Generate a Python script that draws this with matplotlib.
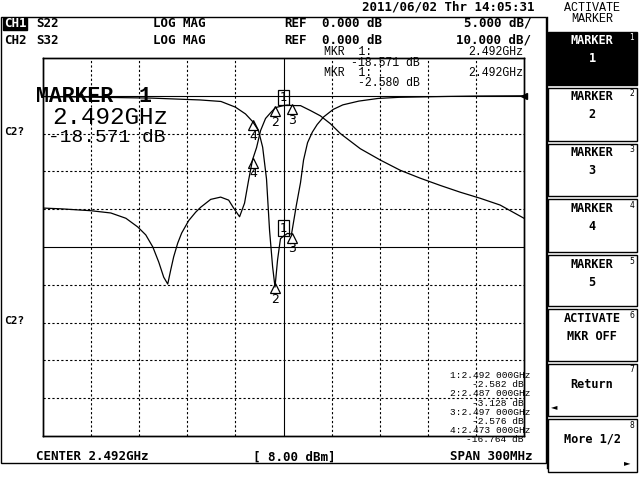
import numpy as np
import matplotlib.pyplot as plt
from matplotlib.patches import Rectangle
from matplotlib.transforms import offset_copy

# CH1: S22, LOG MAG, ref 0 dB, 5 dB/div  (frequency in MHz)
s22_freq = [2342, 2378, 2409, 2440, 2453, 2462, 2468.3, 2472.7, 2476.4, 2479,
            2481.4, 2483.3, 2485.2, 2486.7, 2488.3, 2490.1, 2492, 2494.5, 2497, 2500,
            2502.6, 2504.5, 2507, 2510, 2513, 2517, 2523, 2529, 2539, 2551,
            2564, 2595, 2613, 2642]
s22_db = [-0.1, -0.2, -0.3, -0.55, -0.75, -1.5, -2.4, -3.4, -4.6, -6.8,
          -11, -17.8, -22.6, -25.3, -21.7, -18.9, -18.57, -18.2, -18.3, -14.5,
          -11.5, -8.5, -6.2, -4.8, -3.8, -2.8, -1.8, -1.2, -0.7, -0.35,
          -0.2, -0.08, -0.03, 0]

# CH2: S32, LOG MAG, ref 0 dB, 10 dB/div
s32_freq = [2342, 2353.2, 2371.9, 2384.3, 2393.7, 2401.1, 2406.1, 2410.5, 2414.2, 2417.3,
            2419.8, 2421.7, 2423.5, 2426, 2428.5, 2432.9, 2437.2, 2440.3, 2446.6, 2452.8,
            2457.8, 2460.9, 2464.6, 2467.7, 2470.2, 2472.7, 2475.2, 2477.7, 2480.8, 2483.9,
            2487, 2492, 2494.5, 2497, 2502.6, 2508.8, 2515, 2521.3, 2527.5, 2539.9,
            2552.4, 2564.8, 2577.3, 2589.7, 2602.2, 2614.6, 2627.1, 2642]
s32_db = [-29.7, -29.9, -30.4, -31, -32.4, -34.7, -36.8, -40, -44, -48,
          -49.8, -46, -42.6, -39, -36.3, -33, -30.8, -29.5, -27.4, -26.8,
          -27.6, -29.7, -32, -28.4, -22.4, -16.9, -13.7, -9.2, -6, -4.5,
          -3.13, -2.58, -2.45, -2.58, -2.6, -3.9, -5.3, -7.4, -10, -14,
          -17, -19.7, -21.8, -23.7, -25.5, -27.1, -28.9, -32.4]

# markers 1..4
mkr_labels = ["1", "2", "3", "4"]
mkr_freq = [2492, 2487, 2497, 2473]
mkr_ch1 = [-18.571, -25.0, -18.3, -3.4]
mkr_ch2 = [-2.580, -3.128, -2.576, -16.764]
mkr_list = ["1:2.492 000GHz", "-2.582 dB", "2:2.487 000GHz", "-3.128 dB",
            "3:2.497 000GHz", "-2.576 dB", "4:2.473 000GHz", "-16.764 dB"]

center, span = 2492, 300
softkeys = ["MARKER\n1", "MARKER\n2", "MARKER\n3", "MARKER\n4", "MARKER\n5",
            "ACTIVATE\nMKR OFF", "Return", "More 1/2"]

MONO = "DejaVu Sans Mono"
LMONO = "Liberation Mono"

fig = plt.figure(figsize=(6.4, 4.8), dpi=100)
fig.patch.set_facecolor("white")

ax = fig.add_axes([43 / 640, 1 - 436 / 480, 481 / 640, 378 / 480])
ax.set_xlim(center - span / 2, center + span / 2)
ax.set_ylim(-45, 5)
ax2 = ax.twinx()
ax2.set_ylim(-90, 10)
for a in (ax, ax2):
    a.set_xticks([])
    a.set_yticks([])
    for sp in a.spines.values():
        sp.set_linewidth(1.0)

# graticule
x0 = center - span / 2
for i in range(1, 10):
    ls = "-" if i == 5 else (0, (2, 2))
    ax.axvline(x0 + i * span / 10, color="black", lw=0.8, ls=ls)
for i in range(1, 10):
    ls = "-" if i in (1, 5) else (0, (2, 2))
    ax.axhline(5 - i * 5, color="black", lw=0.8, ls=ls)

ax.plot(s22_freq, s22_db, color="black", lw=0.9)
ax2.plot(s32_freq, s32_db, color="black", lw=0.9)
ax.plot(center + span / 2, 0, marker="<", ms=5, color="black", clip_on=False)


def draw_marker(a, f, v, label):
    if label == "1":
        a.annotate(label, (f, v), xytext=(0, 8), textcoords="offset pixels",
                   ha="center", va="center", fontsize=8.5, family="DejaVu Sans",
                   bbox=dict(boxstyle="square,pad=0.12", fc="none", ec="black", lw=0.9))
    else:
        tr = offset_copy(a.transData, fig=fig, y=-3.5, units="dots")
        a.plot(f, v, marker="^", ms=7, mfc="none", mec="black", mew=0.9, transform=tr)
        a.annotate(label, (f, v), xytext=(0, -8), textcoords="offset pixels",
                   ha="center", va="top", fontsize=9, family="DejaVu Sans")


for lab, f, v1, v2 in zip(mkr_labels, mkr_freq, mkr_ch1, mkr_ch2):
    draw_marker(ax, f, v1, lab)
    draw_marker(ax2, f, v2, lab)

# overlay in screen pixels
ov = fig.add_axes([0, 0, 1, 1])
ov.set_xlim(0, 640)
ov.set_ylim(480, 0)
ov.axis("off")

bold = dict(family=MONO, weight="bold", fontsize=9, va="center")
thin = dict(family=LMONO, fontsize=8.3, va="center")

ov.text(534, 7, "2011/06/02 Thr 14:05:31", ha="right", **bold)
ov.add_patch(Rectangle((0.5, 16.5), 545, 446.5, fill=False, lw=1))
ov.add_patch(Rectangle((3, 17.5), 24, 12, color="black"))
ov.text(15, 23.5, "CH1", ha="center", color="white", **bold)
ov.text(4, 40, "CH2", ha="left", **bold)
for y, s, scale in [(23.5, "S22", "5.000 dB/"), (40, "S32", "10.000 dB/")]:
    ov.text(36, y, s, ha="left", **bold)
    ov.text(153, y, "LOG MAG", ha="left", **bold)
    ov.text(284, y, "REF", ha="left", **bold)
    ov.text(322, y, "0.000 dB", ha="left", **bold)
    ov.text(531, y, scale, ha="right", **bold)

ov.text(324, 52, "MKR  1:", ha="left", **thin)
ov.text(523, 52, "2.492GHz", ha="right", **thin)
ov.text(420, 62.5, "-18.571 dB", ha="right", **thin)
ov.text(324, 72.5, "MKR  1:", ha="left", **thin)
ov.text(523, 72.5, "2.492GHz", ha="right", **thin)
ov.text(420, 82.5, "-2.580 dB", ha="right", **thin)

ov.text(36, 96.5, "MARKER  1", ha="left", va="center", family=LMONO,
        weight="bold", fontsize=15.5)
ov.text(52, 117.5, "2.492GHz", ha="left", va="center", family=LMONO, fontsize=17.5)
ov.text(48, 137, "-18.571 dB", ha="left", va="center", family=LMONO, fontsize=14)

ov.text(4, 132, "C2?", ha="left", **dict(bold, fontsize=8))
ov.text(4, 321, "C2?", ha="left", **dict(bold, fontsize=8))

for k, s in enumerate(mkr_list):
    ov.text(530 if k % 2 == 0 else 524, 375.5 + k * 9.2, s, ha="right",
            family=LMONO, fontsize=6.8, va="center")

ov.text(36, 457, "CENTER 2.492GHz", ha="left", **bold)
ov.text(253, 457, "[ 8.00 dBm]", ha="left", **bold)
ov.text(533, 457, "SPAN 300MHz", ha="right", **bold)

# softkey panel
ov.text(592, 8, "ACTIVATE", ha="center", **dict(thin, fontsize=8.5))
ov.text(592, 19, "MARKER", ha="center", **dict(thin, fontsize=8.5))
ov.plot([547, 547], [17, 468], color="black", lw=1)
tops = [32, 88, 144, 199, 255, 309, 364, 419]
bots = [85, 141, 196, 252, 306, 361, 416, 472]
for k, (t, b, s) in enumerate(zip(tops, bots, softkeys)):
    active = k == 0
    ov.add_patch(Rectangle((548, t), 89, b - t, fc="black" if active else "white",
                           ec="black", lw=1))
    col = "white" if active else "black"
    ty = t + 18 if s != "Return" and not s.startswith("More") else t + 20
    ov.text(592, ty, s, ha="center", va="center", color=col, family=MONO,
            weight="bold", fontsize=8.6, linespacing=1.5)
    ov.text(632, t + 6, str(k + 1), ha="center", va="center", color=col,
            family="DejaVu Sans", fontsize=5.5)
ov.text(554, 407, "\u25c4", ha="center", va="center", fontsize=6, family="DejaVu Sans")
ov.text(627, 463, "\u25ba", ha="center", va="center", fontsize=6, family="DejaVu Sans")

plt.savefig("out.png", dpi=100)
